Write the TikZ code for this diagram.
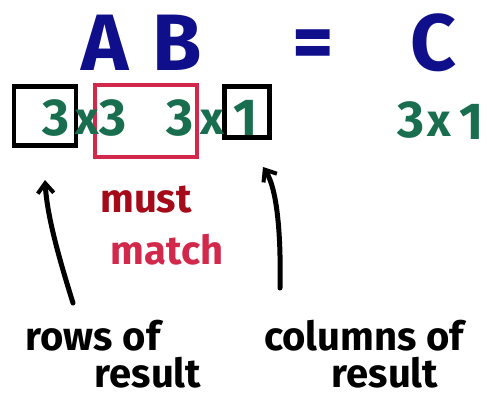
\documentclass[tikz,border=0pt]{standalone}
\usepackage{fontspec}
\setmainfont{Fira Sans}
\usetikzlibrary{arrows.meta}
\definecolor{inkblue}{RGB}{15,15,140}
\definecolor{inkgreen}{RGB}{25,110,80}
\definecolor{inkred}{RGB}{210,40,75}
\definecolor{inkdark}{RGB}{165,10,25}

\begin{document}
\begin{tikzpicture}[x=1pt,y=-1pt,
  letter/.style={inner sep=0pt,text=inkblue,font=\fontsize{80}{80}\selectfont\bfseries},
  dimen/.style={inner sep=0pt,text=inkgreen,font=\fontsize{52}{52}\selectfont\bfseries},
  times/.style={inner sep=0pt,text=inkgreen,font=\fontsize{46}{46}\selectfont\bfseries},
  note/.style={inner sep=0pt,font=\fontsize{40}{40}\selectfont\bfseries},
  box/.style={draw,line width=4.5pt,inner sep=0pt},
  ink/.style={line width=5pt,line cap=round,-{Straight Barb[length=10pt,width=16pt,line width=4pt]}}]
  \useasboundingbox (0,0) rectangle (487,400);
  % the product
  \node[letter] (A) at (105,43) {A};
  \node[letter] (B) at (177,43) {B};
  \node[letter] (eq) at (313,50) {=};
  \node[letter] (C) at (433,43) {C};
  % sizes of A and B
  \node[box,minimum width=62pt,minimum height=59pt] (rowbox) at (45,116) {};
  \node[box,draw=inkred,minimum width=102pt,minimum height=72pt] (innerbox) at (146,121) {};
  \node[box,minimum width=45pt,minimum height=51pt] (colbox) at (247,112) {};
  \node[dimen] (m) at (56,118) {3};
  \node[times] (x1) at (87,122) {x};
  \node[dimen] (n1) at (113,118) {3};
  \node[dimen] (n2) at (180,118) {3};
  \node[times] (x2) at (212,122) {x};
  \node[dimen] (p) at (246,118) {1};
  % size of C
  \node[dimen] (cm) at (411,120) {3};
  \node[times] (cx) at (439,124) {x};
  \node[dimen] (cp) at (472,122) {1};
  % inner sizes
  \node[note,text=inkdark] (must) at (146,200) {must};
  \node[note,text=inkred] (match) at (167,250) {match};
  % outer sizes
  \node[note] (rows) at (93,336) {rows of};
  \node[note] (rowsres) at (148,373) {result};
  \node[note] (cols) at (364,336) {columns of};
  \node[note] (colsres) at (385,373) {result};
  \coordinate (rowtail) at (73,303);
  \coordinate (rowhead) at (45,180);
  \coordinate (coltail) at (280,288);
  \coordinate (colhead) at (263,167);
  \draw[ink] (rowtail) .. controls (58,255) and (47,215) .. (rowhead);
  \draw[ink] (coltail) .. controls (281,240) and (278,190) .. (colhead);
\end{tikzpicture}
\end{document}
